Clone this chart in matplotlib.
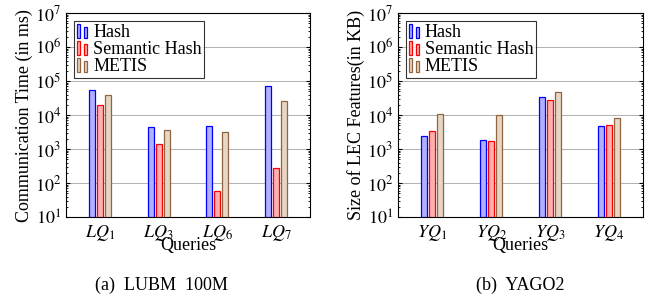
import numpy as np
import matplotlib
matplotlib.use("Agg")
import matplotlib.pyplot as plt
from matplotlib.patches import Rectangle
from matplotlib.legend_handler import HandlerBase

plt.rcParams['font.family'] = ['Liberation Serif', 'DejaVu Serif']
plt.rcParams['mathtext.fontset'] = 'stix'

# ---- data
series = ['Hash', 'Semantic Hash', 'METIS']
lubm_queries = ['$LQ_1$', '$LQ_3$', '$LQ_6$', '$LQ_7$']
lubm_hash = [53000, 4400, 4700, 71000]
lubm_semhash = [19600, 1440, 48, 260]
lubm_metis = [40000, 3700, 3100, 26500]

yago_queries = ['$YQ_1$', '$YQ_2$', '$YQ_3$', '$YQ_4$']
yago_hash = [2460, 1830, 33000, 4700]
yago_semhash = [3470, 1680, 28200, 5050]
yago_metis = [10700, 9800, 47500, 8150]

# pgfplots-ish colours: fill = color!30, edge = color
edges = ['#0000ff', '#ff0000', '#8f6440']
fills = ['#b0b0ff', '#ffb0b0', '#e8d6c4']


class TwoBarHandler(HandlerBase):
    # legend icon: two little bars like pgfplots ybar legend
    def create_artists(self, legend, orig, xd, yd, w, h, fontsize, trans):
        fc = orig.get_facecolor()
        ec = orig.get_edgecolor()
        bw = w * 0.28
        r1 = Rectangle((xd, yd - h * 0.05), bw, h * 1.05, fc=fc, ec=ec, lw=0.9, transform=trans)
        r2 = Rectangle((xd + w * 0.55, yd - h * 0.05), bw, h * 0.8, fc=fc, ec=ec, lw=0.9, transform=trans)
        return [r1, r2]


def draw_panel(ax, queries, data, ylabel):
    x = np.arange(len(queries))
    bw = 0.103
    offs = [-0.137, 0.0, 0.137]
    bars = []
    for vals, off, fc, ec, name in zip(data, offs, fills, edges, series):
        b = ax.bar(x + off, vals, width=bw, bottom=10, color=fc, edgecolor=ec,
                   linewidth=0.9, label=name, zorder=3)
        bars.append(b)
    ax.set_yscale('log')
    ax.set_ylim(10, 1e7)
    ax.set_xlim(-0.58, 3.58)
    ax.set_xticks(x)
    ax.set_xticklabels(queries, fontsize=13)
    ax.set_yticks([10 ** k for k in range(1, 8)])
    ax.set_yticklabels(['$10^{%d}$' % k for k in range(1, 8)], fontsize=13)
    ax.tick_params(axis='both', which='both', direction='in', top=True, right=True, length=3)
    ax.tick_params(axis='x', length=0, pad=4)
    ax.tick_params(axis='y', which='minor', length=1.5)
    ax.grid(axis='y', which='major', color='#b0b0b0', linewidth=0.7, zorder=0)
    ax.set_ylabel(ylabel, fontsize=13, labelpad=1)
    ax.set_xlabel('Queries', fontsize=13, labelpad=-4)
    leg = ax.legend(handles=[b.patches[0] for b in bars], labels=series,
                    loc='upper left', fontsize=13, frameon=True, fancybox=False,
                    edgecolor='black', handler_map={Rectangle: TwoBarHandler()},
                    handlelength=0.7, handletextpad=0.2, borderpad=0.15,
                    labelspacing=0.0, borderaxespad=0.45)
    leg.get_frame().set_linewidth(0.8)
    leg.set_zorder(5)
    for s in ax.spines.values():
        s.set_linewidth(0.8)


fig = plt.figure(figsize=(6.47, 2.97), dpi=100)
ax1 = fig.add_axes([0.102, 0.269, 0.377, 0.687])
ax2 = fig.add_axes([0.615, 0.269, 0.379, 0.687])

draw_panel(ax1, lubm_queries, [lubm_hash, lubm_semhash, lubm_metis], 'Communication Time (in ms)')
draw_panel(ax2, yago_queries, [yago_hash, yago_semhash, yago_metis], 'Size of LEC Features(in KB)')

fig.text(161 / 647, 1 - 285 / 297, '(a)  LUBM  100M', ha='center', va='center', fontsize=13)
fig.text(520 / 647, 1 - 285 / 297, '(b)  YAGO2', ha='center', va='center', fontsize=13)

fig.savefig('out.png', dpi=100)
